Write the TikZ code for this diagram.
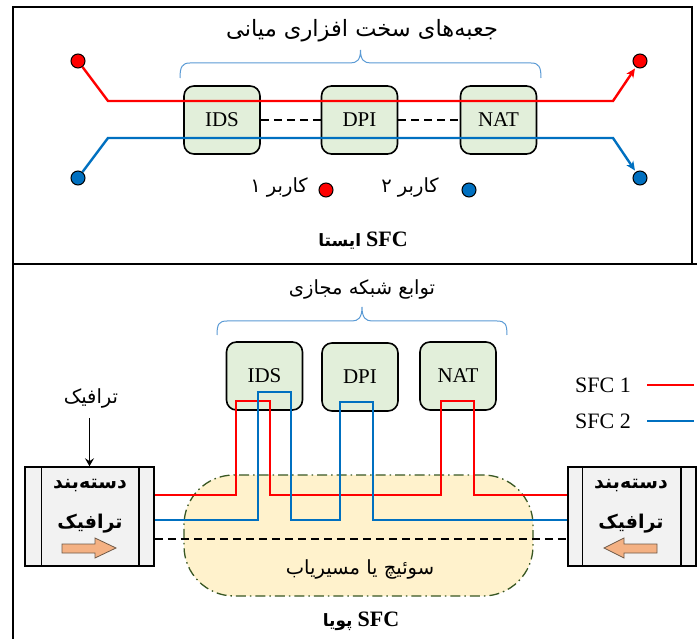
\documentclass[tikz,border=0pt]{standalone}
\usepackage{fontspec}
\setmainfont{Liberation Serif}
\newfontfamily\fa[Script=Arabic]{DejaVu Sans}
\TeXXeTstate=1
\usetikzlibrary{arrows.meta}
\definecolor{cred}{HTML}{FF0000}
\definecolor{cblue}{HTML}{0070C0}
\definecolor{boxgreen}{HTML}{E2EFDA}
\definecolor{bracec}{HTML}{5B9BD5}
\definecolor{swfill}{HTML}{FFF2CC}
\definecolor{swline}{HTML}{385723}
\definecolor{clsfill}{HTML}{F2F2F2}
\definecolor{orangef}{HTML}{F4B183}
\definecolor{orangel}{HTML}{6F5A48}
\begin{document}
\begin{tikzpicture}[x=1pt,y=-1pt,
  frame/.style={draw=black, line width=2pt},
  vnf/.style={draw=black, line width=1.6pt, fill=boxgreen, rounded corners=10pt,
    minimum width=76pt, minimum height=68pt, inner sep=0pt, font=\fontsize{21}{24}\selectfont},
  redl/.style={draw=cred, line width=2.4pt},
  bluel/.style={draw=cblue, line width=2.4pt},
  userdot/.style={circle, draw=black, line width=1pt, minimum size=14pt, inner sep=0pt},
  fatext/.style={font=\fa\fontsize{19.5}{22}\selectfont, inner sep=0pt},
  fatitle/.style={font=\fa\fontsize{22.5}{26}\selectfont, inner sep=0pt},
  fabold/.style={font=\fa\bfseries\fontsize{19}{22}\selectfont, inner sep=0pt},
  latin/.style={font=\fontsize{22}{24}\selectfont, inner sep=0pt},
  blackdash/.style={draw=black, line width=1.6pt, dash pattern=on 8pt off 5pt},
  bracel/.style={draw=bracec, line width=1pt},
  tipa/.style={-{Stealth[length=9pt,width=8pt,inset=2.5pt]}, shorten >=1.5pt},
  swbox/.style={draw=swline, fill=swfill, line width=1.3pt, rounded corners=50pt,
    dash pattern=on 10pt off 4pt on 1.5pt off 4pt, inner sep=0pt},
  clsbox/.style={draw=black, line width=1.5pt, fill=clsfill, inner sep=0pt},
  orarrow/.style={draw=orangel, line width=0.8pt, fill=orangef}
]
\useasboundingbox (0,0) rectangle (697,639);
\fill[white] (0,0) rectangle (697,639);
% ---------------- frame
\draw[frame] (13,7) rectangle (692,264);
\draw[frame] (13,264) -- (697,264);
\draw[frame] (13,264) -- (13,640);

% ---------------- top panel (static SFC)
\node[fatitle] (ttl1) at (362,31) {\beginR جعبه^^^^200cهای سخت افزاری میانی\endR};
\draw[bracel] (180,78) .. controls (180,67) and (182,63) .. (190,63) -- (350,63)
  .. controls (357,63) and (360.5,60) .. (360.5,50)
  .. controls (360.5,60) and (364,63) .. (371,63) -- (531,63)
  .. controls (539,63) and (541,67) .. (541,78);

\node[vnf] (ids1) at (222,120) {IDS};
\node[vnf] (dpi1) at (359.5,120) {DPI};
\node[vnf] (nat1) at (498.5,120) {NAT};
\draw[blackdash] (ids1.east) -- (dpi1.west);
\draw[blackdash] (dpi1.east) -- (nat1.west);

\node[userdot, fill=cred] (r1) at (78,61) {};
\node[userdot, fill=cred] (r2) at (640,61) {};
\node[userdot, fill=cblue] (b1) at (78,178) {};
\node[userdot, fill=cblue] (b2) at (640,178) {};
\draw[redl, tipa] (r1) -- (108,101) -- (613,101) -- (r2);
\draw[bluel, tipa] (b1) -- (108,138) -- (613,138) -- (b2);

\node[userdot, fill=cred] (k1) at (326,190) {};
\node[fatext] (k1t) at (279,187) {\beginR کاربر ۱\endR};
\node[userdot, fill=cblue] (k2) at (469,190) {};
\node[fatext] (k2t) at (410,187) {\beginR کاربر ۲\endR};

\node[inner sep=0pt] (lab1) at (363,241) {{\fa\bfseries\fontsize{17}{20}\selectfont\beginR ایستا\endR}\hspace{5pt}{\bfseries\fontsize{22}{24}\selectfont SFC}};

% ---------------- bottom panel (dynamic SFC)
\node[fatext] (ttl2) at (362,289) {\beginR توابع شبکه مجازی\endR};
\draw[bracel] (217,335) .. controls (217,324) and (219,321) .. (227,321) -- (352,321)
  .. controls (358,321) and (362,318) .. (362,307)
  .. controls (362,318) and (366,321) .. (372,321) -- (497,321)
  .. controls (505,321) and (507,324) .. (507,335);

\node[vnf] (ids2) at (264.5,376) {IDS};
\node[vnf] (dpi2) at (360,377) {DPI};
\node[vnf] (nat2) at (458,376) {NAT};

\node[swbox, minimum width=349pt, minimum height=121pt] (sw) at (358.5,535.5) {};
\node[fatext] (swt) at (360,569) {\beginR سوئیچ یا مسیریاب\endR};

% classifiers
\node[clsbox, minimum width=129pt, minimum height=99pt] (cl1) at (89.5,516.5) {};
\draw[black, line width=1.5pt] ([xshift=17pt]cl1.north west) -- ([xshift=17pt]cl1.south west);
\draw[black, line width=1.5pt] ([xshift=-16pt]cl1.north east) -- ([xshift=-16pt]cl1.south east);
\node[fabold] (cl1a) at (90,486) {\beginR دسته^^^^200cبند\endR};
\node[fabold] (cl1b) at (90,524) {\beginR ترافیک\endR};
\draw[orarrow] (62,544) -- (95,544) -- (95,538) -- (116,548) -- (95,558) -- (95,553) -- (62,553) -- cycle;

\node[clsbox, minimum width=128pt, minimum height=99pt] (cl2) at (632,516.5) {};
\draw[black, line width=1.5pt] ([xshift=15pt]cl2.north west) -- ([xshift=15pt]cl2.south west);
\draw[black, line width=1.5pt] ([xshift=-16pt]cl2.north east) -- ([xshift=-16pt]cl2.south east);
\node[fabold] (cl2a) at (631,486) {\beginR دسته^^^^200cبند\endR};
\node[fabold] (cl2b) at (631,524) {\beginR ترافیک\endR};
\draw[orarrow] (657,544) -- (624,544) -- (624,538) -- (604,548) -- (624,558) -- (624,553) -- (657,553) -- cycle;

% traffic input
\node[fatext] (trf) at (91,398) {\beginR ترافیک\endR};
\draw[black, line width=1pt, -{Stealth[length=8pt,width=9pt,inset=3pt]}] (trf.south -| cl1.north) ++(0,10) -- (cl1.north);

% chains
\coordinate (yr) at (0,495);
\coordinate (yb) at (0,520);
\coordinate (yd) at (0,539);
\draw[redl] (cl1.east |- yr) -- (236,495) -- (236,401) -- (270,401) -- (270,495)
  -- (441,495) -- (441,401) -- (474,401) -- (474,495) -- (cl2.west |- yr);
\draw[bluel] (cl1.east |- yb) -- (258,520) -- (258,392) -- (291,392) -- (291,520)
  -- (340,520) -- (340,402) -- (373,402) -- (373,520) -- (cl2.west |- yb);
\draw[blackdash] (cl1.east |- yd) -- (cl2.west |- yd);

% legend
\node[latin, anchor=west] (s1) at (575,385) {SFC 1};
\draw[redl] ([xshift=16pt]s1.east) -- ++(47,0);
\node[latin, anchor=west] (s2) at (575,421) {SFC 2};
\draw[bluel] ([xshift=16pt]s2.east) -- ++(47,0);

\node[inner sep=0pt] (lab2) at (361,621) {{\fa\bfseries\fontsize{17}{20}\selectfont\beginR پویا\endR}\hspace{5pt}{\bfseries\fontsize{22}{24}\selectfont SFC}};
\end{tikzpicture}
\end{document}
